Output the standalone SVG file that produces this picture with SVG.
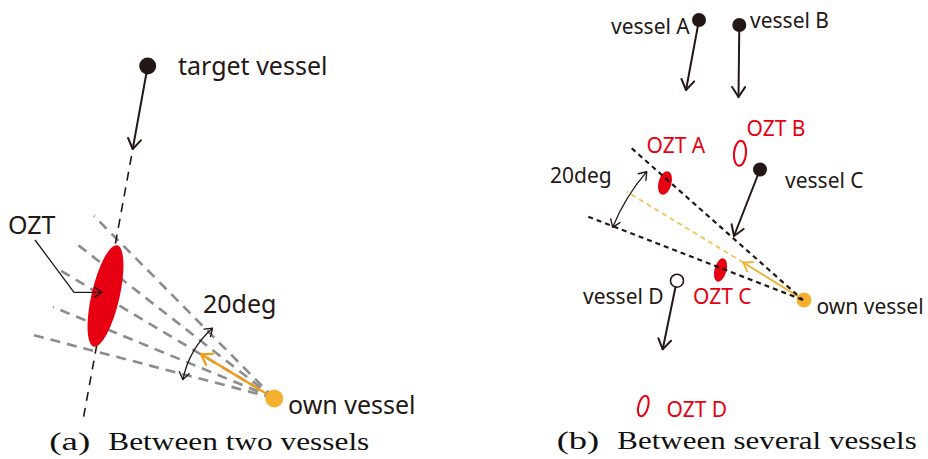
<svg xmlns="http://www.w3.org/2000/svg" width="928" height="459" viewBox="0 0 928 459">
  <defs>
    <style>
      .lbl { font-family: "Noto Sans", "Open Sans", sans-serif; fill: #231815; }
      .big { font-size: 25px; }
      .sm { font-size: 21px; }
      .red { fill: #E60012; }
      .cap { font-family: "Liberation Serif", "DejaVu Serif", serif; font-size: 26px; fill: #111; }
      .ship { fill: #231815; }
      .own { fill: #F5B02E; }
      .course { fill: none; stroke: #231815; stroke-width: 2; stroke-linecap: round; }
      .course-d { fill: none; stroke: #231815; stroke-width: 1.6; stroke-dasharray: 9 7; }
      .ray { fill: none; stroke: #8c8c8c; stroke-width: 2.6; stroke-dasharray: 10 7; }
      .ray-k { fill: none; stroke: #231815; stroke-width: 2.2; stroke-dasharray: 5 4; }
      .thin { fill: none; stroke: #231815; stroke-width: 1.3; }
      .head-o { fill: none; stroke: #F39A10; stroke-width: 2.2; stroke-linecap: round; }
      .head-o2 { fill: none; stroke: #EDB233; stroke-width: 1.8; stroke-linecap: round; }
      .head-o2d { fill: none; stroke: #F3C35A; stroke-width: 1.8; stroke-dasharray: 5 4; }
    </style>
    <marker id="ah" markerUnits="userSpaceOnUse" markerWidth="26" markerHeight="26" viewBox="-13 -13 26 26" refX="0" refY="0" orient="auto-start-reverse">
      <path d="M-10,-6.5 L0,0 L-10,6.5" fill="none" stroke="#231815" stroke-width="2" stroke-linecap="round" stroke-linejoin="round"/>
    </marker>
    <marker id="ah-s" markerUnits="userSpaceOnUse" markerWidth="20" markerHeight="20" viewBox="-10 -10 20 20" refX="0" refY="0" orient="auto-start-reverse">
      <path d="M-7,-5 L0,0 L-7,5" fill="none" stroke="#231815" stroke-width="1.4" stroke-linecap="round" stroke-linejoin="round"/>
    </marker>
    <marker id="ah-o" markerUnits="userSpaceOnUse" markerWidth="26" markerHeight="26" viewBox="-13 -13 26 26" refX="0" refY="0" orient="auto">
      <path d="M-10,-6.5 L0,0 L-10,6.5" fill="none" stroke="#F39A10" stroke-width="2.2" stroke-linecap="round" stroke-linejoin="round"/>
    </marker>
    <marker id="ah-o2" markerUnits="userSpaceOnUse" markerWidth="22" markerHeight="22" viewBox="-11 -11 22 22" refX="0" refY="0" orient="auto">
      <path d="M-8,-5.5 L0,0 L-8,5.5" fill="none" stroke="#EDB233" stroke-width="1.8" stroke-linecap="round" stroke-linejoin="round"/>
    </marker>
  </defs>

  <rect width="928" height="459" fill="#fff"/>

  <!-- (a) two-vessel case: rays and courses under the zone -->
  <g id="connectors-a">
    <line class="ray" x1="274" y1="398" x2="94" y2="216"/>
    <line class="ray" x1="274" y1="398" x2="78" y2="245"/>
    <line class="ray" x1="274" y1="398" x2="58" y2="269"/>
    <line class="ray" x1="274" y1="398" x2="53" y2="307"/>
    <line class="ray" x1="274" y1="398" x2="33" y2="335"/>
    <line class="course" x1="147.7" y1="66" x2="132.7" y2="149" marker-end="url(#ah)"/>
    <line class="course-d" x1="131.5" y1="156" x2="83" y2="420"/>
    <line class="head-o" x1="272" y1="397" x2="201" y2="354.3" marker-end="url(#ah-o)"/>
    <path class="thin" d="M212.5,328.2 A93,93 0 0 0 182.9,379.6" marker-start="url(#ah-s)" marker-end="url(#ah-s)"/>
  </g>

  <g id="target-vessel">
    <circle class="ship" cx="147.7" cy="66" r="8.5"/>
    <text class="lbl big" x="178" y="75">target vessel</text>
  </g>
  <g id="ozt">
    <ellipse cx="105.5" cy="296" rx="14" ry="52" fill="#E60012" transform="rotate(13 105.5 296)"/>
    <text class="lbl big" x="8" y="234.3">OZT</text>
  </g>
  <!-- leader from the OZT label into the zone -->
  <g id="ozt-leader">
    <polyline class="thin" points="35,240 74,292.3 101.7,292.3" marker-end="url(#ah-s)"/>
  </g>
  <g id="own-vessel-a">
    <circle class="own" cx="274.3" cy="398.5" r="9"/>
    <text class="lbl big" x="288" y="414">own vessel</text>
  </g>
  <g id="angle-a">
    <text class="lbl big" x="203" y="313.3">20deg</text>
  </g>
  <text class="cap" x="49.3" y="450" textLength="41" lengthAdjust="spacingAndGlyphs">(a)</text>
  <text class="cap" x="108.3" y="450" textLength="261" lengthAdjust="spacingAndGlyphs">Between two vessels</text>

  <!-- (b) several-vessel case -->
  <g id="vessel-a">
    <circle class="ship" cx="699" cy="20" r="7"/>
    <text class="lbl sm" x="611" y="34">vessel A</text>
  </g>
  <g id="vessel-b">
    <circle class="ship" cx="739.3" cy="25" r="7"/>
    <text class="lbl sm" x="750" y="28.3">vessel B</text>
  </g>
  <g id="vessel-c">
    <circle class="ship" cx="760" cy="169.5" r="7"/>
    <text class="lbl sm" x="785" y="187.7">vessel C</text>
  </g>
  <g id="vessel-d">
    <circle cx="677" cy="280.7" r="6.5" fill="#fff" stroke="#231815" stroke-width="1.6"/>
    <text class="lbl sm" x="583" y="304.3">vessel D</text>
  </g>
  <g id="ozt-a">
    <ellipse cx="665" cy="183" rx="6.5" ry="12" fill="#E60012" transform="rotate(15 665 183)"/>
    <text class="lbl sm red" x="646.5" y="153.3">OZT A</text>
  </g>
  <g id="ozt-b">
    <ellipse cx="740" cy="153.3" rx="6" ry="12.5" fill="none" stroke="#E60012" stroke-width="2" transform="rotate(5 740 153.3)"/>
    <text class="lbl sm red" x="746.5" y="136">OZT B</text>
  </g>
  <g id="ozt-c">
    <ellipse cx="720.5" cy="270" rx="6" ry="12" fill="#E60012" transform="rotate(15 720.5 270)"/>
    <text class="lbl sm red" x="693" y="304.3">OZT C</text>
  </g>
  <g id="ozt-d">
    <ellipse cx="643.3" cy="406" rx="4.8" ry="10.5" fill="none" stroke="#E60012" stroke-width="2" transform="rotate(15 643.3 406)"/>
    <text class="lbl sm red" x="666.5" y="416.7">OZT D</text>
  </g>
  <g id="own-vessel-b">
    <circle class="own" cx="804" cy="300" r="7.5"/>
    <text class="lbl sm" x="816.5" y="314.3">own vessel</text>
  </g>
  <g id="angle-b">
    <text class="lbl sm" x="550" y="182.7">20deg</text>
  </g>

  <g id="connectors-b">
    <line class="course" x1="699" y1="20" x2="686" y2="90" marker-end="url(#ah)"/>
    <line class="course" x1="739.3" y1="25" x2="738.5" y2="97" marker-end="url(#ah)"/>
    <line class="course" x1="760" y1="169.5" x2="734" y2="236" marker-end="url(#ah)"/>
    <line class="course" x1="675.5" y1="287" x2="662.7" y2="349.3" marker-end="url(#ah)"/>
    <line class="head-o2d" x1="743.3" y1="262.5" x2="626.7" y2="191.7"/>
    <line class="head-o2" x1="803" y1="299.5" x2="743.3" y2="262.5" marker-end="url(#ah-o2)"/>
    <line class="ray-k" x1="631.7" y1="148.3" x2="803" y2="300"/>
    <line class="ray-k" x1="588.3" y1="216.7" x2="803" y2="300"/>
    <path class="thin" d="M646.7,171.7 A203,203 0 0 0 612.7,227.3" marker-start="url(#ah-s)" marker-end="url(#ah-s)"/>
  </g>

  <text class="cap" x="556.7" y="448.5" textLength="42.6" lengthAdjust="spacingAndGlyphs">(b)</text>
  <text class="cap" x="617.3" y="448.5" textLength="299.4" lengthAdjust="spacingAndGlyphs">Between several vessels</text>
</svg>
